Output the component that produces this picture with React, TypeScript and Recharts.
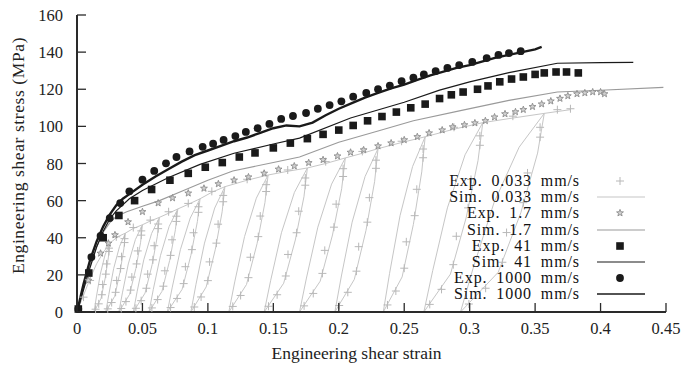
import React from 'react';
import { ComposedChart, Line, Scatter, XAxis, YAxis, Legend } from 'recharts';

const xTicks = [0, 0.05, 0.1, 0.15, 0.2, 0.25, 0.3, 0.35, 0.4, 0.45];
const yTicks = [0, 20, 40, 60, 80, 100, 120, 140, 160];
const xTitle = 'Engineering shear strain';
const yTitle = 'Engineering shear stress (MPa)';
const legendLabels = [
  'Exp. 0.033 mm/s',
  'Sim. 0.033 mm/s',
  'Exp. 1.7 mm/s',
  'Sim. 1.7 mm/s',
  'Exp. 41 mm/s',
  'Sim. 41 mm/s',
  'Exp. 1000 mm/s',
  'Sim. 1000 mm/s',
];

// Sim 0.033 mm/s: loading / unloading / reloading path (in order)
const sim033 = [
  [0, 0], [0.005, 9], [0.01, 18], [0.015, 26], [0.02, 32], [0.025, 37],
  [0.024, 29.6], [0.0216, 18.5], [0.0184, 7.4], [0.013, 0], [0.0148, 8.1], [0.0178, 20.4], [0.0214, 30.7], [0.025, 37],
  [0.031, 40.5], [0.037, 42.5],
  [0.0358, 34], [0.0328, 21.3], [0.0288, 8.5], [0.022, 0], [0.0243, 9.4], [0.028, 23.4], [0.0325, 35.3], [0.037, 42.5],
  [0.043, 45], [0.05, 47],
  [0.0486, 37.6], [0.045, 23.5], [0.0401, 9.4], [0.032, 0], [0.0347, 10.3], [0.0392, 25.9], [0.0446, 39], [0.05, 47],
  [0.056, 49], [0.063, 51],
  [0.0614, 40.8], [0.0574, 25.5], [0.052, 10.2], [0.043, 0], [0.046, 11.2], [0.051, 28.1], [0.057, 42.3], [0.063, 51],
  [0.07, 53.2], [0.077, 55.5],
  [0.0752, 44.4], [0.0708, 27.8], [0.0649, 11.1], [0.055, 0], [0.0583, 12.2], [0.0638, 30.5], [0.0704, 46.1], [0.077, 55.5],
  [0.085, 58], [0.094, 61],
  [0.092, 48.8], [0.087, 30.5], [0.0803, 12.2], [0.069, 0], [0.0728, 13.4], [0.079, 33.6], [0.0865, 50.6], [0.094, 61],
  [0.103, 64.5], [0.113, 67.5],
  [0.1109, 54], [0.1057, 33.8], [0.0987, 13.5], [0.087, 0], [0.0909, 14.9], [0.0974, 37.1], [0.1052, 56], [0.113, 67.5],
  [0.13, 71], [0.146, 73.8],
  [0.1436, 59], [0.1376, 36.9], [0.1295, 14.8], [0.116, 0], [0.1205, 16.2], [0.128, 40.6], [0.137, 61.3], [0.146, 73.8],
  [0.161, 75.8], [0.176, 77.6],
  [0.1734, 62.1], [0.1668, 38.8], [0.1579, 15.5], [0.143, 0], [0.148, 17.1], [0.1562, 42.7], [0.1661, 64.4], [0.176, 77.6],
  [0.19, 80], [0.205, 83],
  [0.2022, 66.4], [0.1952, 41.5], [0.1858, 16.6], [0.17, 0], [0.1753, 18.3], [0.184, 45.7], [0.1945, 68.9], [0.205, 83],
  [0.218, 85.5], [0.23, 88],
  [0.2274, 70.4], [0.2208, 44], [0.2119, 17.6], [0.197, 0], [0.202, 19.4], [0.2102, 48.4], [0.2201, 73], [0.23, 88],
  [0.248, 91.3], [0.266, 94.4],
  [0.2634, 75.5], [0.257, 47.2], [0.2484, 18.9], [0.234, 0], [0.2388, 20.8], [0.2468, 51.9], [0.2564, 78.4], [0.266, 94.4],
  [0.288, 98.5], [0.31, 102],
  [0.3064, 81.6], [0.2974, 51], [0.2853, 20.4], [0.265, 0], [0.2718, 22.4], [0.283, 56.1], [0.2965, 84.7], [0.31, 102],
  [0.333, 104.5], [0.357, 107],
  [0.3519, 85.6], [0.3391, 53.5], [0.3218, 21.4], [0.293, 0], [0.3026, 23.5], [0.3186, 58.9], [0.3378, 88.8], [0.357, 107],
  [0.367, 108], [0.377, 109],
];

// Exp 0.033 mm/s (plus markers)
const exp033 = [
  [0.005, 8], [0.01, 17], [0.03, 40.5], [0.043, 45.5], [0.056, 49.5], [0.07, 54], [0.085, 58.5], [0.103, 65],
  [0.13, 71.5], [0.161, 76.5], [0.19, 81], [0.218, 86.5], [0.248, 92], [0.288, 99.5], [0.333, 105.5], [0.367, 109], [0.377, 109.5],
  [0.0244, 32.6], [0.022, 20.4], [0.019, 9.3], [0.0142, 1.5], [0.0166, 4.4], [0.0196, 14.8], [0.0226, 25.9], [0.0244, 34.4],
  [0.0363, 37.4], [0.0333, 23.4], [0.0295, 10.6], [0.0235, 1.7], [0.0265, 5.1], [0.0303, 17], [0.034, 29.8], [0.0363, 39.5],
  [0.0491, 41.4], [0.0455, 25.9], [0.041, 11.8], [0.0338, 1.9], [0.0374, 5.6], [0.0419, 18.8], [0.0464, 32.9], [0.0491, 43.7],
  [0.062, 44.9], [0.058, 28.1], [0.053, 12.8], [0.045, 2], [0.049, 6.1], [0.054, 20.4], [0.059, 35.7], [0.062, 47.4],
  [0.0759, 48.8], [0.0715, 30.5], [0.066, 13.9], [0.0572, 2.2], [0.0616, 6.7], [0.0671, 22.2], [0.0726, 38.9], [0.0759, 51.6],
  [0.0928, 53.7], [0.0878, 33.6], [0.0815, 15.3], [0.0715, 2.4], [0.0765, 7.3], [0.0828, 24.4], [0.089, 42.7], [0.0928, 56.7],
  [0.1117, 59.4], [0.1065, 37.1], [0.1, 16.9], [0.0896, 2.7], [0.0948, 8.1], [0.1013, 27], [0.1078, 47.3], [0.1117, 62.8],
  [0.1445, 64.9], [0.1385, 40.6], [0.131, 18.5], [0.119, 3], [0.125, 8.9], [0.1325, 29.5], [0.14, 51.7], [0.1445, 68.6],
  [0.1744, 68.3], [0.1678, 42.7], [0.1595, 19.4], [0.1463, 3.1], [0.1529, 9.3], [0.1612, 31], [0.1694, 54.3], [0.1744, 72.2],
  [0.2033, 73], [0.1963, 45.7], [0.1875, 20.8], [0.1735, 3.3], [0.1805, 10], [0.1893, 33.2], [0.198, 58.1], [0.2033, 77.2],
  [0.2284, 77.4], [0.2218, 48.4], [0.2135, 22], [0.2003, 3.5], [0.2069, 10.6], [0.2152, 35.2], [0.2234, 61.6], [0.2284, 81.8],
  [0.2644, 83.1], [0.258, 51.9], [0.25, 23.6], [0.2372, 3.8], [0.2436, 11.3], [0.2516, 37.8], [0.2596, 66.1], [0.2644, 87.8],
  [0.3078, 89.8], [0.2988, 56.1], [0.2875, 25.5], [0.2695, 4.1], [0.2785, 12.2], [0.2898, 40.8], [0.301, 71.4], [0.3078, 94.9],
  [0.3538, 94.2], [0.341, 58.9], [0.325, 26.8], [0.2994, 4.3], [0.3122, 12.8], [0.3282, 42.8], [0.3442, 74.9], [0.3538, 99.5],
];

// Exp 1.7 mm/s (stars)
const exp17 = [
  [0.0087, 17], [0.018, 31.6], [0.024, 37], [0.029, 41.5], [0.039, 48.5], [0.05, 54], [0.062, 58.7], [0.073, 61.4],
  [0.085, 64], [0.097, 66.6], [0.108, 69], [0.12, 71], [0.131, 72.7], [0.143, 74.7], [0.154, 76.9], [0.166, 78.6],
  [0.177, 80.4], [0.188, 82], [0.199, 84], [0.209, 86], [0.219, 87.3], [0.23, 89.4], [0.24, 91], [0.25, 92.7],
  [0.26, 94.4], [0.269, 96.4], [0.279, 98], [0.287, 99.7], [0.296, 100.8], [0.304, 101.8], [0.312, 103], [0.319, 105],
  [0.327, 106.7], [0.335, 107.8], [0.341, 109], [0.348, 110.6], [0.355, 112], [0.362, 113.6], [0.369, 115], [0.375, 116.4],
  [0.382, 117.5], [0.388, 118], [0.394, 118.5], [0.4, 118.5], [0.403, 117.5],
];

// Sim 1.7 mm/s
const sim17 = [
  [0, 0], [0.005, 13], [0.01, 25], [0.015, 35], [0.02, 43], [0.025, 48], [0.03, 51.5], [0.038, 54], [0.05, 57],
  [0.063, 60], [0.08, 65], [0.1, 71], [0.119, 76], [0.15, 80.5], [0.17, 83.5], [0.2, 91.5], [0.23, 97.5], [0.257, 103],
  [0.293, 108.5], [0.33, 114], [0.367, 118.5], [0.4, 119.5], [0.448, 121],
];

// Exp 41 mm/s (squares)
const exp41 = [
  [0.001, 1.6], [0.009, 21], [0.02, 40], [0.032, 52], [0.044, 60], [0.057, 66], [0.071, 71], [0.085, 74.7], [0.098, 78],
  [0.111, 80.5], [0.124, 83.5], [0.136, 85.7], [0.15, 88.4], [0.163, 91], [0.176, 93.4], [0.188, 95.7], [0.2, 98],
  [0.211, 100.5], [0.222, 103], [0.233, 105.3], [0.244, 107.7], [0.255, 110], [0.266, 112], [0.277, 115], [0.286, 117],
  [0.295, 118.5], [0.306, 120], [0.314, 121.8], [0.323, 124], [0.332, 125.5], [0.341, 126.6], [0.35, 128], [0.357, 128.8],
  [0.366, 129.3], [0.374, 129.3], [0.383, 128.8],
];

// Sim 41 mm/s
const sim41 = [
  [0, 0], [0.005, 12], [0.01, 24], [0.015, 35], [0.02, 43.5], [0.025, 50], [0.03, 54.5], [0.04, 61], [0.05, 65.5],
  [0.07, 72.5], [0.094, 79.5], [0.12, 85.5], [0.15, 90.5], [0.17, 93.7], [0.209, 104.5], [0.25, 113], [0.277, 119.5],
  [0.3, 124], [0.33, 129], [0.367, 134], [0.4, 134.3], [0.425, 134.5],
];

// Exp 1000 mm/s (circles)
const exp1000 = [
  [0.001, 1.6], [0.011, 29.6], [0.018, 41], [0.025, 50.6], [0.033, 58.7], [0.04, 65], [0.05, 71.3], [0.059, 76],
  [0.068, 80.1], [0.076, 83.5], [0.086, 86.5], [0.096, 89], [0.104, 90.7], [0.112, 92.7], [0.121, 94.8], [0.129, 97],
  [0.138, 99], [0.147, 101.3], [0.156, 104], [0.165, 105.6], [0.175, 107.2], [0.184, 109.5], [0.193, 111.5], [0.202, 113.5],
  [0.211, 116], [0.221, 118], [0.23, 120], [0.239, 122], [0.248, 124.3], [0.257, 126.2], [0.265, 128], [0.274, 129.8],
  [0.283, 131.5], [0.292, 133], [0.302, 134.7], [0.313, 136.8], [0.322, 138.5], [0.33, 139.5], [0.339, 140.5],
];

// Sim 1000 mm/s
const sim1000 = [
  [0, 0], [0.005, 15], [0.01, 28], [0.015, 38], [0.02, 46], [0.025, 52.5], [0.03, 57.5], [0.035, 61], [0.04, 63.5],
  [0.05, 68.5], [0.06, 73], [0.07, 77], [0.08, 81], [0.09, 84.5], [0.1, 87], [0.11, 89.5], [0.12, 92], [0.13, 94],
  [0.14, 96.5], [0.15, 99], [0.16, 100.5], [0.17, 100], [0.18, 102], [0.19, 106], [0.2, 109.5], [0.21, 112.5],
  [0.22, 115.5], [0.23, 118], [0.24, 120.5], [0.25, 122.5], [0.26, 125], [0.27, 127.5], [0.28, 129.5], [0.29, 131.5],
  [0.3, 133], [0.31, 135], [0.32, 137], [0.33, 138.5], [0.34, 140], [0.35, 141.5], [0.355, 142.8],
];

const toPts = (arr: number[][]) => arr.map(([x, y]) => ({ x, y }));

const FONT = '"Liberation Serif", "Times New Roman", serif';
const AXIS = '#2a2a2a';
const C_PLUS = '#b8b8b8';
const C_SIM033 = '#c6c6c6';
const C_STAR = '#8c8c8c';
const C_SIM17 = '#9a9a9a';
const C_BLACK = '#1a1a1a';

const PlusShape = (p: any) =>
  p.cx == null ? null : (
    <path d={`M${p.cx - 4},${p.cy}h8M${p.cx},${p.cy - 4}v8`} stroke={C_PLUS} strokeWidth={1} fill="none" />
  );

const starPath = (cx: number, cy: number, ro: number, ri: number) => {
  let d = '';
  for (let i = 0; i < 10; i++) {
    const r = i % 2 === 0 ? ro : ri;
    const a = -Math.PI / 2 + (i * Math.PI) / 5;
    d += `${i === 0 ? 'M' : 'L'}${cx + r * Math.cos(a)},${cy + r * Math.sin(a)}`;
  }
  return d + 'Z';
};

const StarShape = (p: any) =>
  p.cx == null ? null : (
    <path d={starPath(p.cx, p.cy, 3.6, 1.5)} stroke={C_STAR} strokeWidth={0.9} fill="#d0d0d0" />
  );

const SquareShape = (p: any) =>
  p.cx == null ? null : <rect x={p.cx - 3.8} y={p.cy - 3.8} width={7.6} height={7.6} fill={C_BLACK} />;

const CircleShape = (p: any) =>
  p.cx == null ? null : <circle cx={p.cx} cy={p.cy} r={3.9} fill={C_BLACK} />;

const BottomTick = (p: any) => (
  <g>
    <line x1={p.x} x2={p.x} y1={p.y} y2={p.y - 9} stroke={AXIS} strokeWidth={1.3} />
    <text x={p.x} y={p.y + 22} textAnchor="middle" fontFamily={FONT} fontSize={16.5} fill="#222">
      {String(p.payload.value)}
    </text>
  </g>
);
const TopTick = (p: any) => (
  <line x1={p.x} x2={p.x} y1={p.y} y2={p.y + 9} stroke={AXIS} strokeWidth={1.3} />
);
const LeftTick = (p: any) => (
  <g>
    <line x1={p.x} x2={p.x + 9} y1={p.y} y2={p.y} stroke={AXIS} strokeWidth={1.3} />
    <text x={p.x - 14} y={p.y + 6} textAnchor="end" fontFamily={FONT} fontSize={16.5} fill="#222">
      {String(p.payload.value)}
    </text>
  </g>
);
const RightTick = (p: any) => (
  <line x1={p.x} x2={p.x - 9} y1={p.y} y2={p.y} stroke={AXIS} strokeWidth={1.3} />
);

const XTitle = (p: any) => {
  const vb = p.viewBox;
  return (
    <text x={vb.x + vb.width / 2 - 15} y={vb.y + 47} textAnchor="middle" fontFamily={FONT} fontSize={17.5} fill="#222">
      {xTitle}
    </text>
  );
};
const YTitle = (p: any) => {
  const vb = p.viewBox;
  const cx = vb.x + 24;
  const cy = vb.y + vb.height / 2 - 8;
  return (
    <text
      x={cx}
      y={cy}
      transform={`rotate(-90, ${cx}, ${cy})`}
      textAnchor="middle"
      fontFamily={FONT}
      fontSize={17.5}
      letterSpacing={0.6}
      fill="#222"
    >
      {yTitle}
    </text>
  );
};

const legendKinds = ['plus', 'line033', 'star', 'line17', 'square', 'line41', 'circle', 'line1000'];

const LegendSymbol = ({ kind }: { kind: string }) => {
  let el: any = null;
  if (kind === 'plus') el = <PlusShape cx={30} cy={8} />;
  if (kind === 'star') el = <StarShape cx={30} cy={8} />;
  if (kind === 'square') el = <SquareShape cx={30} cy={8} />;
  if (kind === 'circle') el = <CircleShape cx={30} cy={8} />;
  if (kind === 'line033') el = <line x1={7} x2={55} y1={8} y2={8} stroke={C_SIM033} strokeWidth={1.2} />;
  if (kind === 'line17') el = <line x1={7} x2={55} y1={8} y2={8} stroke={C_SIM17} strokeWidth={1.2} />;
  if (kind === 'line41') el = <line x1={7} x2={55} y1={8} y2={8} stroke={C_BLACK} strokeWidth={1.2} />;
  if (kind === 'line1000') el = <line x1={7} x2={55} y1={8} y2={8} stroke={C_BLACK} strokeWidth={1.6} />;
  return (
    <svg width={60} height={16} style={{ display: 'block' }}>
      {el}
    </svg>
  );
};

const renderLegend = () => (
  <div style={{ fontFamily: FONT, fontSize: 16, color: '#111', letterSpacing: '0.9px', wordSpacing: '4px' }}>
    {legendLabels.map((label, i) => (
      <div key={label} style={{ display: 'flex', alignItems: 'center', height: 16.2 }}>
        <div style={{ width: 180, textAlign: 'right', lineHeight: '16px', whiteSpace: 'pre' }}>{label}</div>
        <div style={{ marginLeft: 10 }}>
          <LegendSymbol kind={legendKinds[i]} />
        </div>
      </div>
    ))}
  </div>
);

export default function App() {
  return (
    <div style={{ position: 'absolute', left: 0, top: 0, width: 697, height: 365, background: '#fff' }}>
      <ComposedChart width={697} height={365} margin={{ top: 15, right: 31, bottom: 0, left: 0 }}>
        <XAxis
          xAxisId={0}
          dataKey="x"
          type="number"
          domain={[0, 0.45]}
          ticks={xTicks}
          height={53}
          tickSize={0}
          tickMargin={0}
          tickLine={false}
          tick={<BottomTick />}
          axisLine={{ stroke: AXIS, strokeWidth: 2 }}
          interval={0}
          label={XTitle}
        />
        <XAxis
          xAxisId="top"
          dataKey="x"
          type="number"
          orientation="top"
          domain={[0, 0.45]}
          ticks={xTicks}
          height={0}
          tickSize={0}
          tickMargin={0}
          tickLine={false}
          tick={<TopTick />}
          axisLine={{ stroke: AXIS, strokeWidth: 2 }}
          interval={0}
        />
        <YAxis
          yAxisId={0}
          dataKey="y"
          type="number"
          domain={[0, 160]}
          ticks={yTicks}
          width={77}
          tickSize={0}
          tickMargin={0}
          tickLine={false}
          tick={<LeftTick />}
          axisLine={{ stroke: AXIS, strokeWidth: 2 }}
          interval={0}
          label={YTitle}
        />
        <YAxis
          yAxisId="right"
          dataKey="y"
          type="number"
          orientation="right"
          domain={[0, 160]}
          ticks={yTicks}
          width={0}
          tickSize={0}
          tickMargin={0}
          tickLine={false}
          tick={<RightTick />}
          axisLine={{ stroke: AXIS, strokeWidth: 2 }}
          interval={0}
        />
        <Line data={toPts(sim033)} dataKey="y" type="linear" stroke={C_SIM033} strokeWidth={1} dot={false} activeDot={false} isAnimationActive={false} />
        <Scatter data={toPts(exp033)} dataKey="y" shape={PlusShape} isAnimationActive={false} />
        <Scatter data={toPts(exp17)} dataKey="y" shape={StarShape} isAnimationActive={false} />
        <Line data={toPts(sim17)} dataKey="y" type="linear" stroke={C_SIM17} strokeWidth={1.1} dot={false} activeDot={false} isAnimationActive={false} />
        <Scatter data={toPts(exp41)} dataKey="y" shape={SquareShape} isAnimationActive={false} />
        <Line data={toPts(sim41)} dataKey="y" type="linear" stroke={C_BLACK} strokeWidth={1.2} dot={false} activeDot={false} isAnimationActive={false} />
        <Scatter data={toPts(exp1000)} dataKey="y" shape={CircleShape} isAnimationActive={false} />
        <Line data={toPts(sim1000)} dataKey="y" type="linear" stroke={C_BLACK} strokeWidth={2.4} dot={false} activeDot={false} isAnimationActive={false} />
        <Legend
          content={renderLegend}
          layout="vertical"
          align="center"
          verticalAlign="middle"
          wrapperStyle={{ left: 400, top: 173, width: 260, height: 132 }}
        />
      </ComposedChart>
    </div>
  );
}
